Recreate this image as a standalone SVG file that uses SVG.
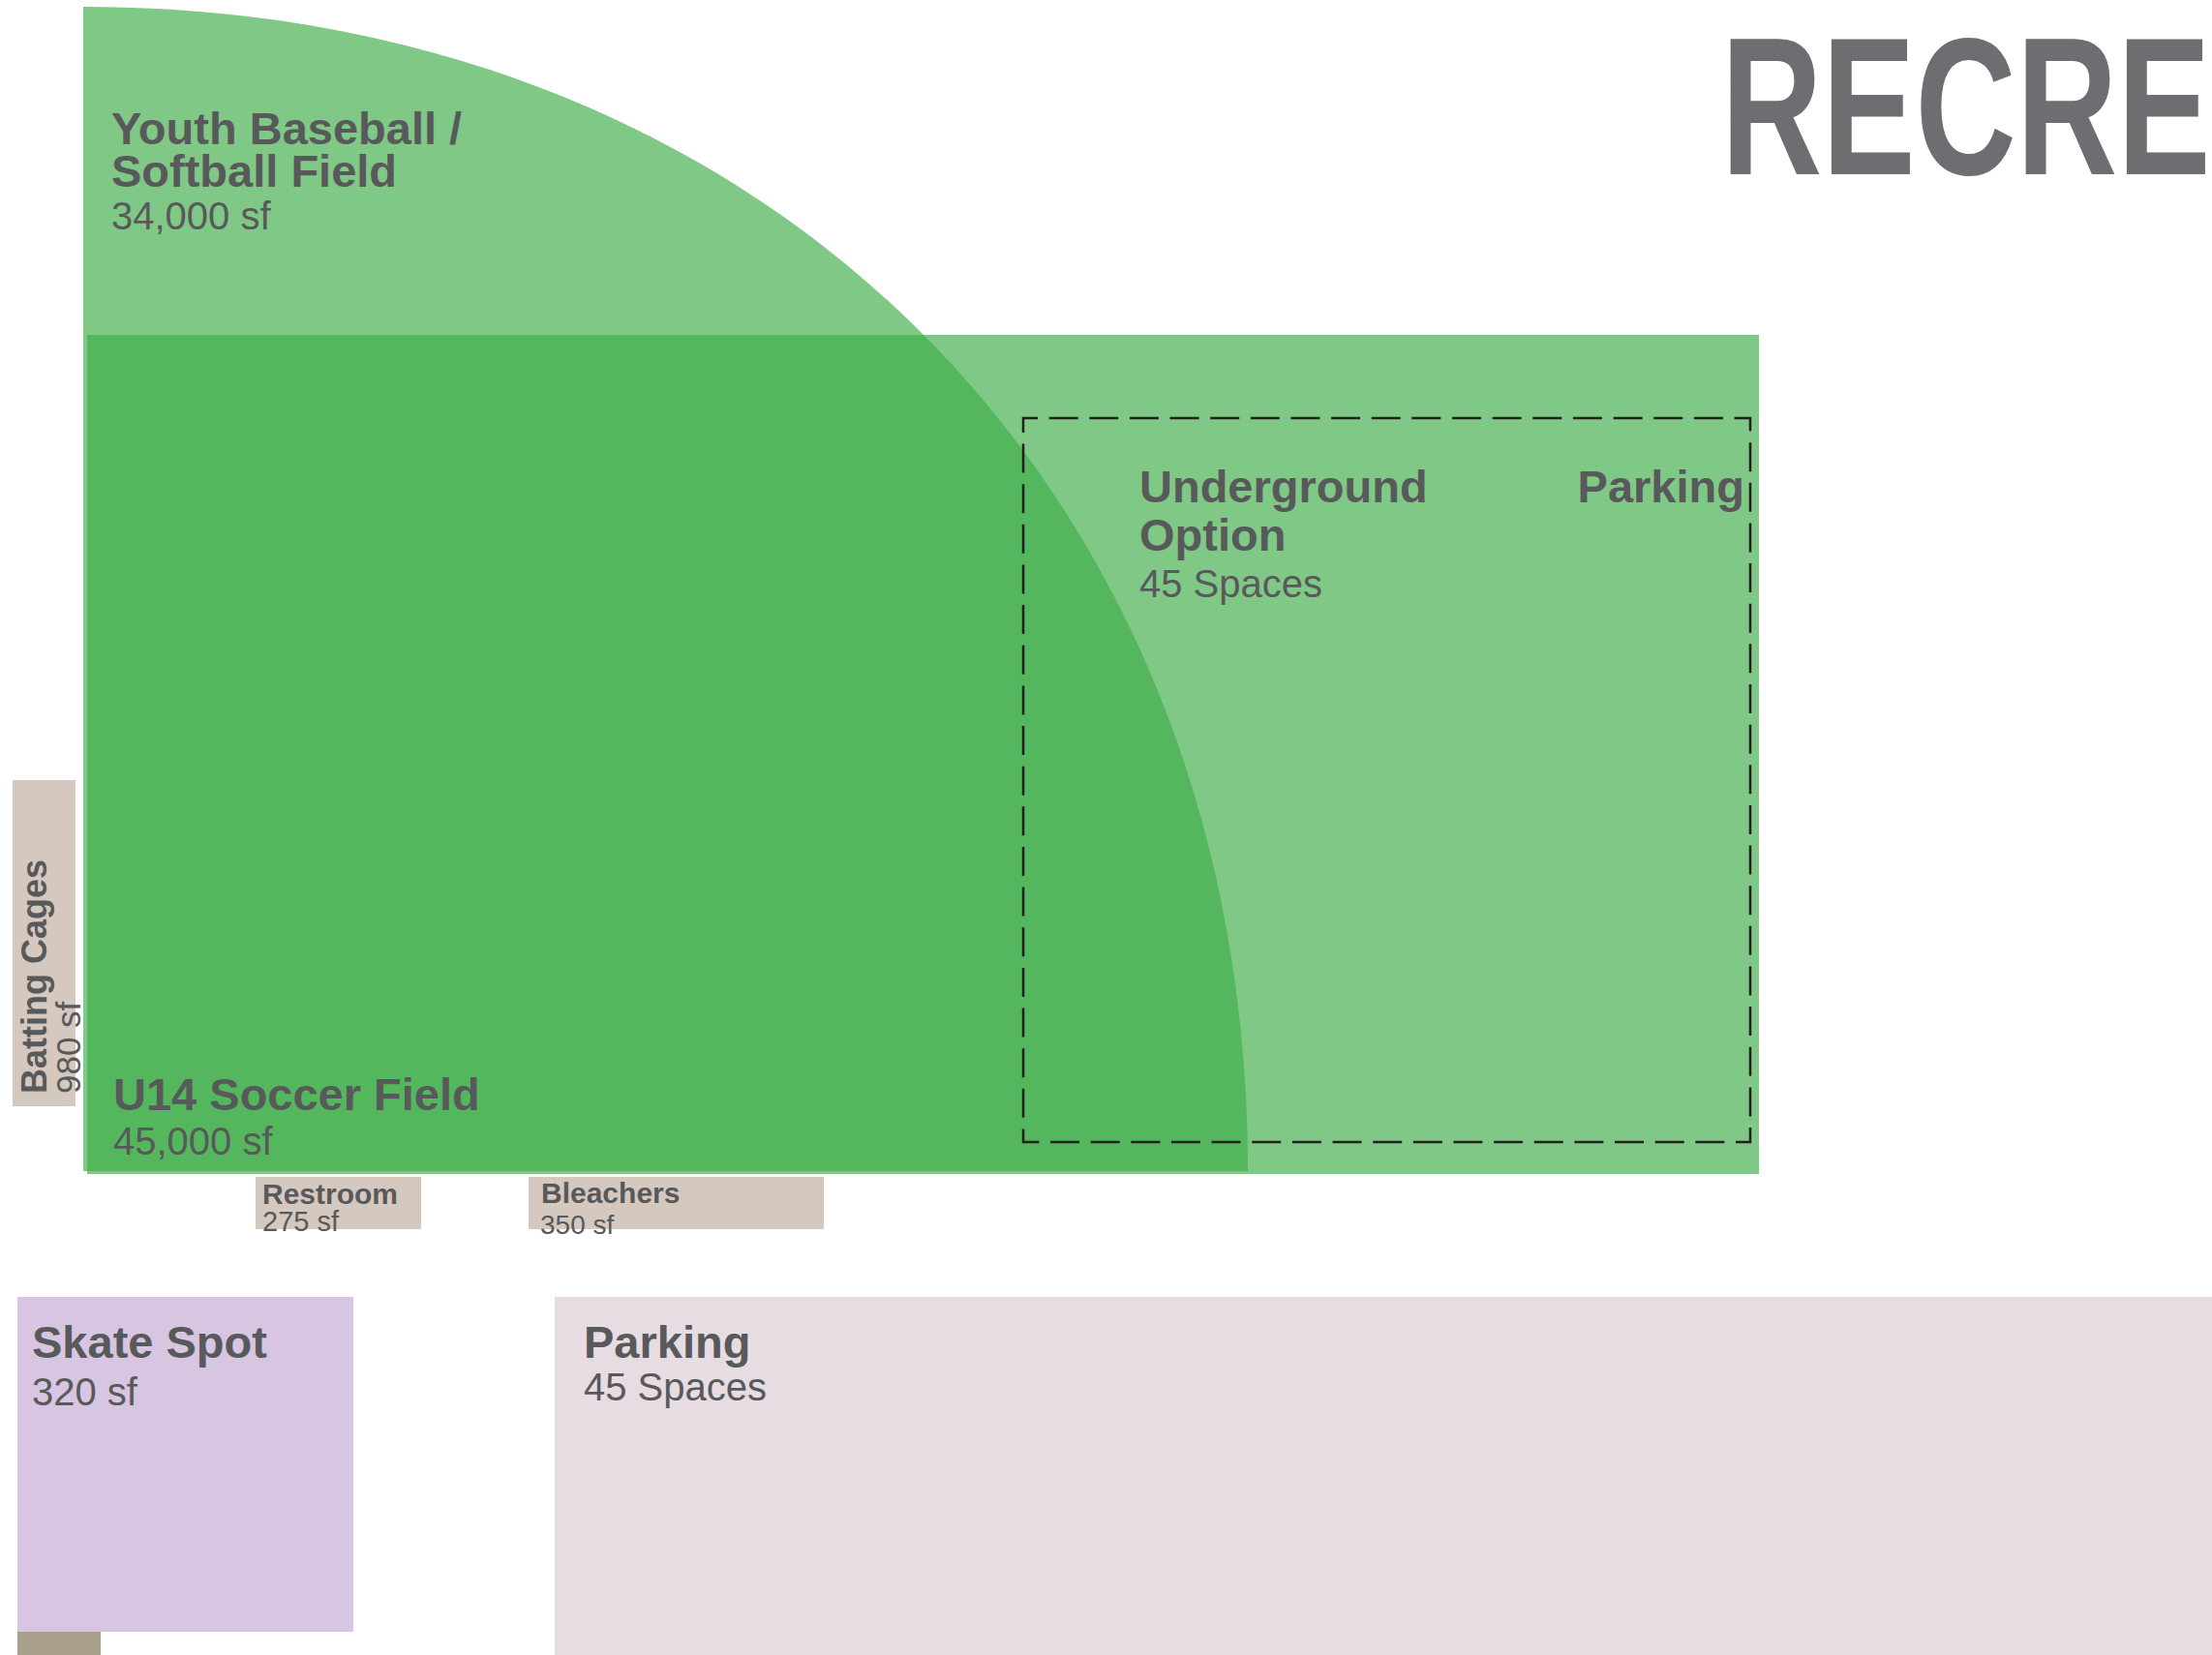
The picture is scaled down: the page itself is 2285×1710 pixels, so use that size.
<svg xmlns="http://www.w3.org/2000/svg" width="2285" height="1710" viewBox="0 0 2285 1710">
  <style>
    .b { font-family: "Liberation Sans", Arial, sans-serif; font-weight: bold; fill: #58595B; }
    .r { font-family: "Liberation Sans", Arial, sans-serif; font-weight: normal; fill: #58595B; }
    .lg { fill: #80C885; }
    .dg { fill: #54B75E; }
    .tan { fill: #D5C9BF; }
  </style>
  <defs>
    <clipPath id="soccerClip">
      <rect x="90" y="346" width="1727" height="867"/>
    </clipPath>
    <path id="ballShape" d="M86,7 C791.4,7 1289,504.6 1289,1210 L86,1210 Z"/>
  </defs>
  <rect x="0" y="0" width="2285" height="1710" fill="#FFFFFF"/>

  <g id="soccer-field">
    <rect class="lg" x="90" y="346" width="1727" height="867"/>
  </g>
  <g id="baseball-field">
    <use href="#ballShape" class="lg"/>
    <use href="#ballShape" class="dg" clip-path="url(#soccerClip)"/>
    <text class="b" font-size="47" x="115" y="149">Youth Baseball /</text>
    <text class="b" font-size="47" x="115" y="193">Softball Field</text>
    <text class="r" font-size="40" x="115" y="237">34,000 sf</text>
  </g>
  <g id="soccer-label">
    <text class="b" font-size="47" x="117" y="1147">U14 Soccer Field</text>
    <text class="r" font-size="40" x="117" y="1193">45,000 sf</text>
  </g>

  <g id="underground-parking">
    <rect x="1057" y="432" width="751" height="748" fill="none" stroke="#231F20" stroke-width="2.5" stroke-dasharray="30 11.64" stroke-dashoffset="15"/>
    <text class="b" font-size="47" x="1177" y="519">Underground</text>
    <text class="b" font-size="47" x="1802" y="519" text-anchor="end">Parking</text>
    <text class="b" font-size="47" x="1177" y="569">Option</text>
    <text class="r" font-size="40" x="1177" y="617">45 Spaces</text>
  </g>

  <g id="batting-cages">
    <rect class="tan" x="13" y="806" width="65" height="337"/>
    <text class="b" font-size="36" transform="translate(48,1130) rotate(-90)">Batting Cages</text>
    <text class="r" font-size="35" transform="translate(83,1130) rotate(-90)">980 sf</text>
  </g>

  <g id="restroom">
    <rect class="tan" x="264" y="1216" width="171" height="54"/>
    <text class="b" font-size="30" x="271" y="1244">Restroom</text>
    <text class="r" font-size="29" x="271" y="1272">275 sf</text>
  </g>

  <g id="bleachers">
    <rect class="tan" x="546" y="1216" width="305" height="54"/>
    <text class="b" font-size="30" x="559" y="1243">Bleachers</text>
    <text class="r" font-size="28" x="558" y="1275">350 sf</text>
  </g>

  <g id="skate-spot">
    <rect x="18" y="1340" width="347" height="346" fill="#D7C5E1"/>
    <text class="b" font-size="47" x="33" y="1403">Skate Spot</text>
    <text class="r" font-size="40" x="33" y="1452">320 sf</text>
  </g>

  <g id="small-block">
    <rect x="18" y="1686" width="86" height="24" fill="#A8A08C"/>
  </g>

  <g id="parking">
    <rect x="573" y="1340" width="1712" height="370" fill="#E6DCE2"/>
    <text class="b" font-size="47" x="603" y="1403">Parking</text>
    <text class="r" font-size="40" x="603" y="1447">45 Spaces</text>
  </g>

  <g id="title">
    <text font-family="'Liberation Sans', Arial, sans-serif" font-weight="bold" font-size="202" fill="#6D6E71" transform="translate(1778,180) scale(0.715,1)">RECRE</text>
  </g>

  <g id="connectors"/>
</svg>
